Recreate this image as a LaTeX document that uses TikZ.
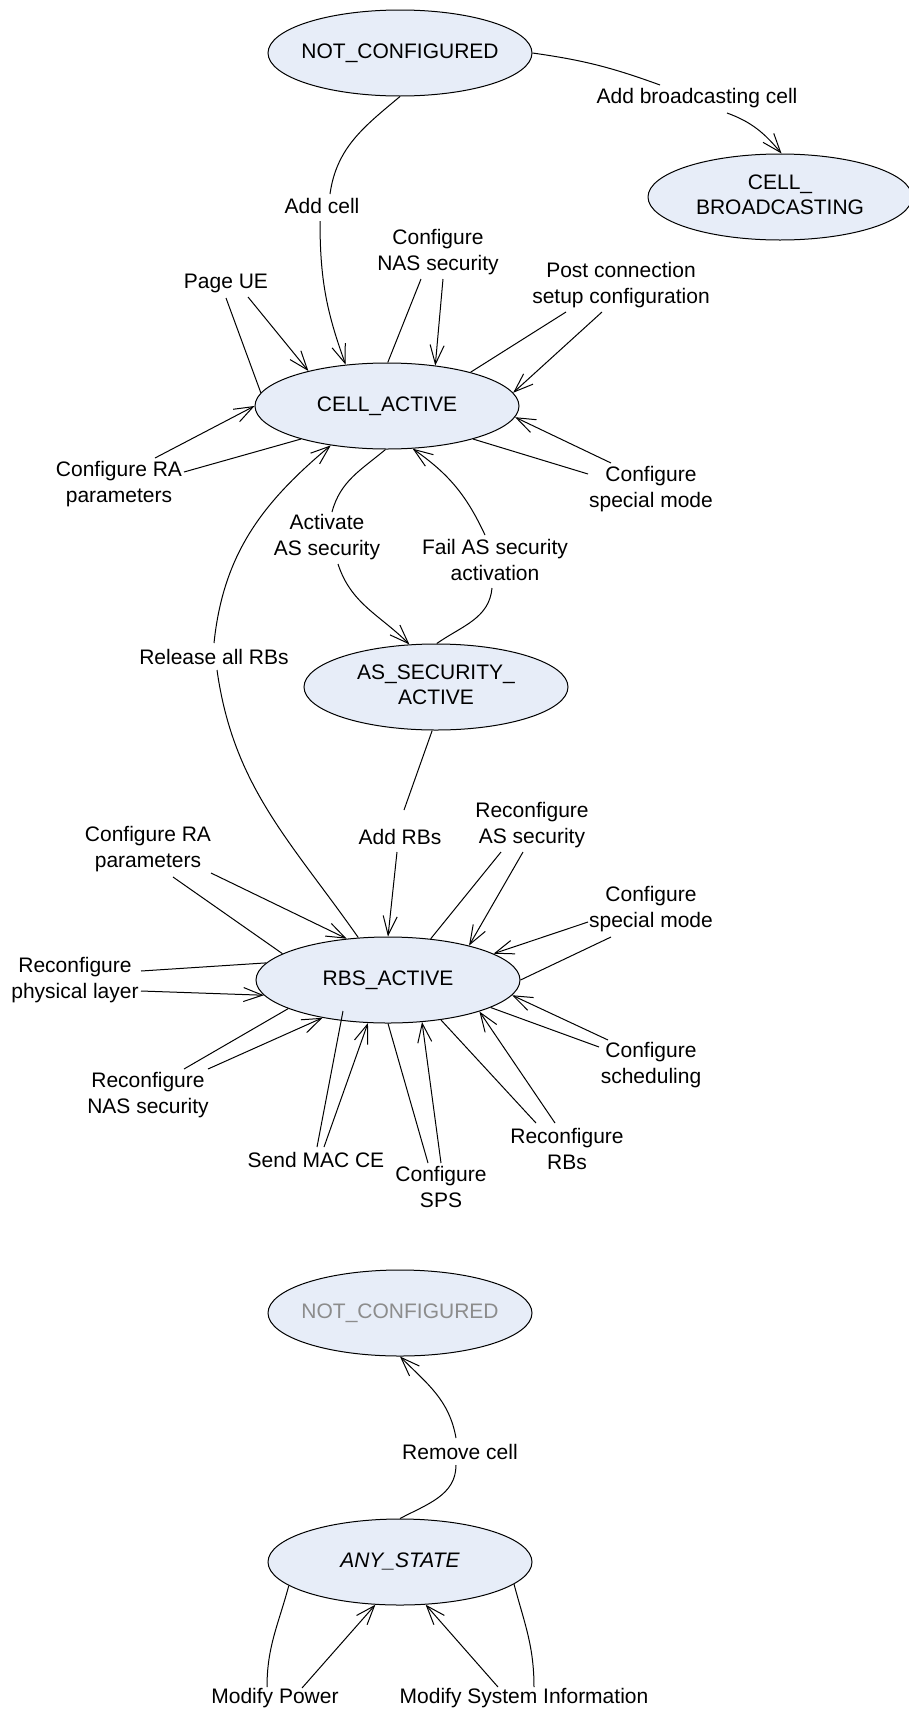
\documentclass[tikz,border=0pt]{standalone}
\usepackage{fontspec}
\setmainfont{Liberation Sans}
\usetikzlibrary{shapes.geometric,arrows.meta,calc}
\definecolor{stfill}{RGB}{231,237,248}
\definecolor{ghost}{RGB}{140,140,140}
\newcommand{\fsz}{\fontsize{21}{25.5}\selectfont}
\newcommand{\stxt}[1]{\makebox[0pt]{\begin{tabular}{@{}c@{}}#1\end{tabular}}}
\begin{document}
\begin{tikzpicture}[x=1pt,y=1pt,
 state/.style={ellipse, draw, line width=1pt, fill=stfill, minimum width=264pt, minimum height=86pt, inner sep=0pt, font=\fsz},
 lbl/.style={inner sep=1pt, align=center, font=\fsz},
 tr/.style={line width=1pt},
 arr/.style={line width=1pt, -{Straight Barb[length=19pt,width=14pt]}}]
\fill[white] (0,0) rectangle (908,-1713);
\useasboundingbox (0,0) rectangle (908,-1713);
% states
\node[state] (NC1) at (400,-53) {\stxt{NOT\_CONFIGURED}};
\node[state] (CB) at (780,-197) {\stxt{CELL\_\\BROADCASTING}};
\node[state] (CA) at (387,-406) {\stxt{CELL\_ACTIVE}};
\node[state] (AS) at (436,-687) {\stxt{AS\_SECURITY\_\\ACTIVE}};
\node[state] (RBS) at (388,-980) {\stxt{RBS\_ACTIVE}};
\node[state] (NC2) at (400,-1313) {\stxt{\textcolor{ghost}{NOT\_CONFIGURED}}};
\node[state] (ANY) at (400,-1562) {\stxt{\itshape ANY\_STATE}};
% labels
\node[lbl] (lAbc) at (697,-98) {Add broadcasting cell};
\node[lbl] (lAdd) at (322,-206) {Add cell};
\node[lbl] (lNas) at (438,-252) {Configure\\NAS security};
\node[lbl] (lPage) at (226,-283) {Page UE};
\node[lbl] (lPost) at (621,-285) {Post connection\\setup configuration};
\node[lbl] (lRa1) at (119,-484) {Configure RA\\parameters};
\node[lbl] (lSp1) at (651,-489) {Configure\\special mode};
\node[lbl] (lAct) at (327,-537) {Activate\\AS security};
\node[lbl] (lFail) at (495,-560) {Fail AS security\\activation};
\node[lbl] (lRel) at (214,-657) {Release all RBs};
\node[lbl] (lAddRB) at (400,-837) {Add RBs};
\node[lbl] (lRas) at (532,-825) {Reconfigure\\AS security};
\node[lbl] (lRa2) at (148,-849) {Configure RA\\parameters};
\node[lbl] (lSp2) at (651,-909) {Configure\\special mode};
\node[lbl] (lPhy) at (75,-980) {Reconfigure\\physical layer};
\node[lbl] (lSch) at (651,-1065) {Configure\\scheduling};
\node[lbl] (lRnas) at (148,-1095) {Reconfigure\\NAS security};
\node[lbl] (lMac) at (316,-1160) {Send MAC CE};
\node[lbl] (lSps) at (441,-1187) {Configure\\SPS};
\node[lbl] (lRrb) at (567,-1149) {Reconfigure\\RBs};
\node[lbl] (lRem) at (460,-1452) {Remove cell};
\node[lbl] (lPow) at (275,-1698) {Modify Power};
\node[lbl] (lSys) at (524,-1698) {Modify System Information};
% NC1 -> CB
\draw[tr] (NC1.east) to[out=-8,in=160] ([shift={(-37,13)}]lAbc.center);
\draw[arr] ([shift={(30,-15)}]lAbc.center) to[out=-20,in=130] (CB.88);
% NC1 -> CA
\draw[tr] (NC1.south) to[out=-140,in=82] ([shift={(8,12)}]lAdd.center);
\draw[arr] ([shift={(-2,-15)}]lAdd.center) to[out=-90,in=110] (CA.135);
% CA loops
\draw[tr] (CA.174) -- ([shift={(0,-15)}]lPage.center);
\draw[arr] ([shift={(22,-14)}]lPage.center) -- (CA.156);
\draw[tr] (CA.89) -- ([shift={(-17,-27)}]lNas.center);
\draw[arr] ([shift={(5,-27)}]lNas.center) -- (CA.40);
\draw[tr] (CA.22) -- ([shift={(-55,-27)}]lPost.center);
\draw[arr] ([shift={(-19,-27)}]lPost.center) -- (CA.6);
\draw[arr] ([shift={(36,26)}]lRa1.center) -- (CA.180);
\draw[tr] (CA.-159) -- ([shift={(65,12)}]lRa1.center);
\draw[tr] (CA.-21) -- ([shift={(-63,15)}]lSp1.center);
\draw[arr] ([shift={(-40,26)}]lSp1.center) -- (CA.-5);
% CA <-> AS
\draw[tr] (CA.-92) to[out=-140,in=75] ([shift={(5,25)}]lAct.center);
\draw[arr] ([shift={(11,-27)}]lAct.center) to[out=-72,in=135] (AS.122);
\draw[tr] (AS.89) to[out=35,in=-95] ([shift={(-3,-28)}]lFail.center);
\draw[arr] ([shift={(-10,25)}]lFail.center) to[out=115,in=-35] (CA.-59);
% RBS -> CA
\draw[tr] (RBS.125) to[out=125,in=-82] ([shift={(3,-13)}]lRel.center);
\draw[arr] ([shift={(0,14)}]lRel.center) to[out=84,in=-140] (CA.215);
% AS -> RBS
\draw[tr] (AS.-95) -- ([shift={(4,27)}]lAddRB.center);
\draw[arr] ([shift={(-3,-15)}]lAddRB.center) -- (RBS.90);
% RBS loops
\draw[tr] (RBS.166) -- ([shift={(25,-28)}]lRa2.center);
\draw[arr] ([shift={(63,-24)}]lRa2.center) -- (RBS.135);
\draw[tr] (RBS.44) -- ([shift={(-31,-27)}]lRas.center);
\draw[arr] ([shift={(-9,-27)}]lRas.center) -- (RBS.23);
\draw[arr] ([shift={(-63,-13)}]lSp2.center) -- (RBS.14);
\draw[tr] (RBS.0) -- ([shift={(-40,-28)}]lSp2.center);
\draw[tr] (RBS.172) -- ([shift={(66,9)}]lPhy.center);
\draw[arr] ([shift={(66,-11)}]lPhy.center) -- (RBS.187);
\draw[arr] ([shift={(-43,25)}]lSch.center) -- (RBS.-7);
\draw[tr] (RBS.-15) -- ([shift={(-52,18)}]lSch.center);
\draw[tr] (RBS.-164) -- ([shift={(36,26)}]lRnas.center);
\draw[arr] ([shift={(60,26)}]lRnas.center) -- (RBS.-150);
\draw[tr] ([shift={(-45,-31)}]RBS.center) -- ([shift={(1,13)}]lMac.center);
\draw[arr] ([shift={(8,13)}]lMac.center) -- (RBS.-115);
\draw[tr] (RBS.-90) -- ([shift={(-13,24)}]lSps.center);
\draw[arr] ([shift={(0,24)}]lSps.center) -- (RBS.-51);
\draw[tr] (RBS.-37) -- ([shift={(-31,26)}]lRrb.center);
\draw[arr] ([shift={(-12,26)}]lRrb.center) -- (RBS.-19);
% ANY -> NC2
\draw[tr] (ANY.90) to[out=28,in=-90] ([shift={(-4,-13)}]lRem.center);
\draw[arr] ([shift={(-4,14)}]lRem.center) to[out=100,in=-45] (NC2.-90);
% ANY loops
\draw[tr] (ANY.-168) to[out=-105,in=90] ([shift={(-8,11)}]lPow.center);
\draw[arr] ([shift={(27,10)}]lPow.center) -- (ANY.-120);
\draw[arr] ([shift={(-26,11)}]lSys.center) -- (ANY.-59);
\draw[tr] (ANY.-11) to[out=-75,in=90] ([shift={(10,11)}]lSys.center);
\end{tikzpicture}
\end{document}
